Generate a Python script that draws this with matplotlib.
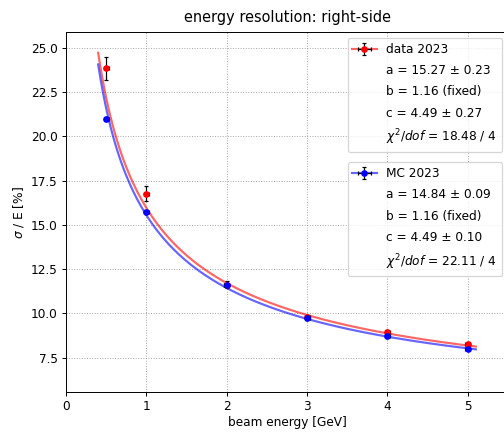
import numpy as np
import matplotlib.pyplot as plt
from matplotlib.lines import Line2D

# beam energies [GeV]
energy = [0.5, 1.0, 2.0, 3.0, 4.0, 5.0]
energy_err = [0.03, 0.03, 0.03, 0.03, 0.03, 0.03]

# data 2023
res_data = [23.85, 16.77, 11.62, 9.78, 8.92, 8.25]
res_data_err = [0.64, 0.45, 0.18, 0.15, 0.15, 0.12]

# MC 2023
res_mc = [20.97, 15.72, 11.58, 9.75, 8.70, 7.97]
res_mc_err = [0.12, 0.10, 0.08, 0.07, 0.07, 0.06]

# fit parameters (from legend)
fit_data = dict(a=15.27, b=1.16, c=4.49)
fit_mc = dict(a=14.84, b=1.16, c=4.49)

labels_data = ['data 2023', 'a = 15.27 ± 0.23', 'b = 1.16 (fixed)',
               'c = 4.49 ± 0.27', '$\\chi^2/dof$ = 18.48 / 4']
labels_mc = ['MC 2023', 'a = 14.84 ± 0.09', 'b = 1.16 (fixed)',
             'c = 4.49 ± 0.10', '$\\chi^2/dof$ = 22.11 / 4']


def resolution(E, a, b, c):
    return np.sqrt(a**2 / E + b**2 / E**2 + c**2)


fig = plt.figure(figsize=(504 / 87, 433 / 87), dpi=87)
ax = fig.add_axes([66 / 504, 41 / 433, 442 / 504, 360 / 433])

E_fit = np.linspace(0.4, 5.1, 300)
line_d, = ax.plot(E_fit, resolution(E_fit, **fit_data), color='red', lw=1.8, alpha=0.6)
line_m, = ax.plot(E_fit, resolution(E_fit, **fit_mc), color='blue', lw=1.8, alpha=0.6)

eb_d = ax.errorbar(energy, res_data, xerr=energy_err, yerr=res_data_err, fmt='o', color='red',
                   ms=4.5, ecolor='black', elinewidth=1, capsize=2, zorder=3)
eb_m = ax.errorbar(energy, res_mc, xerr=energy_err, yerr=res_mc_err, fmt='o', color='blue',
                   ms=4.5, ecolor='black', elinewidth=1, capsize=2, zorder=4)

ax.set_xlim(0, 5.5)
ax.set_ylim(5.55, 25.9)
ax.set_yticks([7.5, 10.0, 12.5, 15.0, 17.5, 20.0, 22.5, 25.0])
ax.grid(True, linestyle=':', color='gray', alpha=0.7)
ax.set_xlabel('beam energy [GeV]', labelpad=2)
ax.set_ylabel('$\\sigma$ / E [%]')
ax.set_title('energy resolution: right-side', pad=8)

blank = [Line2D([], [], alpha=0)] * 4
leg1 = ax.legend([(line_d, eb_d)] + blank, labels_data, loc='upper right', labelspacing=0.68)
ax.add_artist(leg1)
ax.legend([(line_m, eb_m)] + blank, labels_mc, loc='upper right', labelspacing=0.68,
          bbox_to_anchor=(1, 0.655))

fig.savefig('out.png', dpi=87)
